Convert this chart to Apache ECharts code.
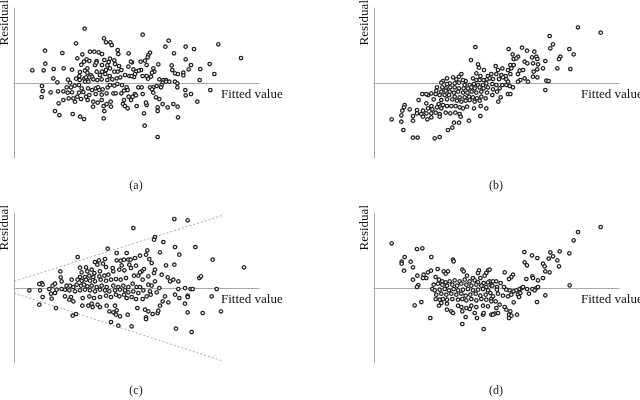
<!DOCTYPE html>
<html><head><meta charset="utf-8">
<script src="https://cdn.jsdelivr.net/npm/echarts@6/dist/echarts.min.js"></script>
<style>html,body{margin:0;padding:0;background:#fff}#c{width:640px;height:400px}</style>
</head><body><div id="c"></div>
<script>
// (a) homoscedastic residuals: [fitted value, residual]
const pointsA = [[212,163],[270,134],[276,122],[289,122],[293,114],[186,119],[93,97],[145,90],[228,94],[241,94],[254,92],[264,87],[205,86],[311,99],[313,87],[344,89],[190,74],[218,71],[210,64],[226,66],[248,66],[271,69],[288,73],[284,63],[301,68],[94,58],[55,38],[89,38],[119,42],[149,44],[174,40],[202,55],[220,44],[243,54],[247,61],[264,54],[280,53],[303,57],[315,51],[322,39],[311,34],[343,49],[198,33],[213,37],[220,31],[230,24],[234,19],[248,34],[264,34],[276,39],[288,44],[301,34],[274,27],[287,21],[196,21],[186,13],[211,13],[216,17],[226,17],[238,11],[250,9],[258,24],[118,14],[130,2],[162,10],[168,1],[197,9],[213,4],[223,4],[263,11],[280,9],[295,11],[308,14],[319,17],[333,24],[346,21],[84,-9],[86,-24],[83,-42],[110,-28],[132,-25],[148,-25],[161,-29],[174,-28],[158,-13],[171,-13],[182,-8],[195,-6],[203,-16],[195,-29],[208,-27],[222,-16],[234,-21],[245,-16],[252,-13],[256,-21],[266,-19],[281,-13],[288,-6],[301,-8],[310,-3],[324,-6],[338,-13],[341,-21],[330,-23],[322,-31],[298,-31],[305,-31],[278,-31],[263,-35],[245,-33],[226,-36],[216,-41],[190,-41],[178,-46],[164,-46],[148,-51],[134,-61],[183,-56],[201,-48],[221,-51],[238,-56],[237,-71],[251,-59],[263,-51],[269,-69],[278,-63],[290,-56],[291,-71],[330,-51],[327,-63],[333,-69],[341,-76],[123,-84],[136,-96],[176,-93],[198,-101],[210,-108],[271,-84],[269,-106],[344,-41],
[386,145],[464,127],[454,109],[515,109],[540,102],[613,116],[681,75],[408,91],[403,84],[401,77],[480,89],[515,71],[531,54],[587,57],[601,27],[559,42],[524,41],[473,53],[475,39],[483,29],[492,27],[508,31],[508,23],[433,56],[418,44],[421,34],[414,31],[411,19],[402,13],[398,21],[386,21],[380,64],[381,39],[374,37],[354,62],[351,64],[358,41],[366,34],[363,27],[360,18],[353,21],[393,67],[398,54],[436,11],[448,9],[456,9],[456,4],[466,4],[483,4],[490,-1],[557,9],[446,1],[443,-6],[441,-13],[428,-9],[418,-13],[408,-13],[414,-19],[383,-13],[373,-13],[386,-33],[363,-33],[356,-41],[351,-51],[368,-69],[366,-37],[418,-29],[426,-43],[436,-48],[446,-63],[461,-73],[431,-73],[431,-84],[398,-66],[396,-59],[478,-63],[491,-71],[490,-13],[514,-21],[515,-37],[531,-33],[550,-56],[589,-21],[390,-91],[392,-128],[431,-162],[492,-103]];

// (b) residuals trending upward with fitted value
const pointsB = [[304,108],[291,69],[312,56],[315,46],[330,39],[262,27],[255,19],[247,11],[237,17],[219,14],[207,6],[202,1],[307,29],[319,21],[342,21],[297,14],[307,9],[317,9],[329,9],[339,11],[275,6],[267,9],[255,1],[242,-1],[227,-1],[219,-3],[272,-6],[287,-6],[300,-3],[312,-6],[327,-6],[337,-1],[342,-13],[329,-16],[317,-13],[302,-16],[292,-13],[282,-16],[269,-16],[255,-16],[242,-13],[229,-13],[215,-16],[205,-13],[189,-13],[187,-23],[202,-26],[215,-23],[227,-26],[240,-29],[252,-26],[267,-29],[280,-29],[293,-26],[307,-29],[322,-26],[339,-29],[185,-33],[172,-31],[162,-36],[145,-33],[157,-33],[197,-36],[212,-36],[225,-36],[242,-41],[257,-43],[272,-43],[285,-41],[297,-43],[309,-46],[322,-41],[335,-46],[134,-51],[179,-49],[202,-51],[219,-49],[235,-49],[249,-53],[262,-56],[275,-53],[287,-51],[302,-56],[317,-53],[194,-63],[207,-66],[219,-69],[232,-69],[245,-69],[257,-73],[267,-76],[279,-71],[300,-76],[320,-69],[337,-76],[162,-76],[175,-79],[189,-73],[202,-76],[107,-79],[92,-66],[90,-73],[85,-83],[129,-81],[147,-83],[129,-91],[142,-93],[157,-91],[172,-91],[185,-89],[197,-93],[215,-89],[229,-91],[244,-89],[257,-93],[260,-101],[197,-101],[82,-97],[117,-99],[147,-101],[172,-103],[53,-109],[82,-116],[117,-113],[160,-109],[285,-113],[319,-99],[240,-119],[255,-119],[235,-134],[222,-141],[88,-141],[117,-164],[131,-164],[182,-166],[197,-162],[157,-61],[172,-69],
[612,167],[680,151],[527,141],[537,116],[529,104],[404,102],[444,106],[459,97],[481,94],[586,102],[599,86],[416,86],[432,79],[419,72],[427,74],[474,77],[487,79],[490,72],[559,79],[555,72],[514,66],[452,64],[460,59],[477,59],[492,56],[409,54],[419,54],[365,51],[372,39],[385,44],[402,39],[412,44],[437,37],[447,39],[479,34],[490,41],[507,44],[550,44],[589,42],[352,27],[367,27],[382,24],[395,21],[409,27],[432,27],[477,19],[490,17],[452,14],[439,9],[432,4],[462,4],[517,7],[524,6],[347,14],[357,12],[375,12],[387,17],[397,11],[402,4],[355,-3],[367,-6],[385,-6],[397,-6],[407,-9],[417,-13],[377,-16],[357,-19],[369,-26],[355,-36],[380,-43],[402,-33],[409,-33],[373,-56],[514,-21]];

// (c) funnel-shaped (heteroscedastic) residuals
const pointsC = [[281,118],[191,93],[139,50],[198,61],[243,78],[255,83],[267,73],[250,70],[273,87],[308,83],[320,82],[308,105],[338,105],[330,85],[323,68],[346,70],[343,85],[276,63],[233,55],[216,62],[220,50],[203,47],[241,45],[258,50],[296,60],[316,55],[331,53],[298,50],[283,40],[271,37],[256,35],[238,33],[226,37],[213,33],[198,33],[191,25],[203,22],[216,25],[228,22],[243,20],[260,25],[276,22],[291,25],[306,27],[320,25],[336,30],[140,32],[143,20],[173,25],[83,15],[86,10],[76,12],[116,7],[123,13],[158,7],[168,7],[178,3],[188,10],[201,7],[210,10],[220,5],[233,7],[248,3],[263,7],[278,3],[298,7],[313,3],[328,7],[343,3],[46,-7],[78,-7],[106,-3],[128,-5],[143,-3],[153,-5],[166,-7],[183,-10],[198,-7],[213,-5],[228,-7],[243,-10],[258,-5],[273,-7],[286,-10],[303,-7],[318,-5],[333,-7],[343,-13],[111,-17],[123,-15],[86,-27],[113,-32],[153,-25],[171,-27],[206,-30],[226,-25],[240,-30],[258,-27],[276,-23],[291,-27],[306,-20],[316,-25],[330,-20],[338,-30],[166,-35],[178,-40],[205,-53],[223,-53],[233,-47],[236,-57],[251,-50],[258,-57],[278,-53],[303,-53],[286,-70],[298,-73],[308,-67],[306,-80],[318,-85],[341,-80],[76,-50],[126,-60],[176,-83],[186,-78],[291,-102],[313,-113],
[481,207],[521,203],[358,180],[423,153],[420,145],[448,138],[483,123],[544,123],[438,107],[496,100],[596,85],[690,62],[400,113],[396,100],[378,97],[363,90],[350,85],[406,87],[413,75],[423,55],[420,45],[456,68],[481,70],[390,57],[383,50],[378,47],[366,67],[351,60],[360,37],[373,37],[386,25],[403,35],[443,40],[461,32],[478,25],[468,20],[493,20],[556,30],[561,35],[423,20],[356,13],[368,3],[378,3],[403,10],[413,7],[436,0],[493,-3],[513,0],[530,-3],[536,-3],[608,-3],[358,-10],[373,-15],[388,-7],[408,-10],[428,-13],[353,-27],[366,-33],[386,-33],[398,-25],[410,-20],[453,-25],[483,-20],[496,-30],[521,-23],[521,-27],[593,-25],[446,-40],[463,-43],[513,-47],[370,-60],[393,-65],[403,-70],[416,-78],[431,-75],[433,-68],[438,-53],[396,-88],[396,-93],[521,-73],[566,-75],[621,-70],[353,-115],[486,-122],[533,-132]];

// (c) funnel guide lines
const coneUpper = [[0,20],[623,217]];
const coneLower = [[0,-15],[623,-218]];

// (d) curved (U-shaped) residuals
const pointsD = [[53,134],[129,117],[145,119],[92,93],[83,79],[83,73],[110,79],[117,62],[90,52],[172,93],[237,85],[239,80],[171,52],[162,47],[191,57],[209,50],[222,50],[215,43],[265,55],[269,50],[315,53],[312,45],[342,53],[337,45],[279,37],[297,30],[319,30],[332,37],[347,20],[130,37],[149,40],[147,30],[157,30],[117,25],[133,9],[129,3],[185,33],[195,25],[205,20],[215,17],[227,20],[242,23],[257,20],[272,25],[287,20],[302,23],[312,17],[329,15],[342,17],[179,10],[192,13],[205,10],[219,7],[235,10],[249,7],[262,13],[277,10],[292,7],[307,10],[322,7],[337,3],[352,7],[175,-3],[182,-7],[197,-5],[212,-3],[225,-7],[239,-3],[252,-7],[267,-5],[282,-3],[297,-7],[312,-5],[327,-3],[342,-7],[187,-20],[202,-17],[217,-20],[232,-17],[247,-20],[262,-17],[275,-23],[289,-20],[305,-17],[319,-23],[335,-20],[349,-15],[185,-33],[197,-35],[207,-33],[219,-35],[235,-33],[252,-35],[265,-33],[277,-37],[292,-33],[307,-37],[322,-33],[337,-35],[352,-33],[219,-47],[202,-45],[195,-53],[252,-53],[262,-57],[277,-60],[292,-53],[307,-57],[327,-53],[342,-55],[219,-65],[232,-70],[237,-75],[265,-70],[275,-87],[302,-75],[309,-90],[327,-80],[329,-75],[352,-80],[362,-77],[122,-52],[142,-42],[169,-90],[265,-108],[329,-123],[287,-63],
[680,183],[612,168],[599,143],[451,108],[557,110],[529,107],[586,104],[474,98],[490,90],[537,95],[524,88],[550,83],[452,77],[459,68],[507,73],[512,65],[555,65],[514,50],[527,47],[507,30],[392,47],[417,40],[412,33],[405,27],[475,35],[457,27],[477,30],[492,23],[347,55],[357,20],[367,20],[380,15],[355,7],[369,3],[390,3],[397,-5],[407,-7],[419,-10],[427,-7],[437,-3],[444,0],[447,3],[459,-3],[475,-3],[487,0],[492,3],[482,-7],[587,8],[369,-5],[372,-17],[387,-23],[402,-25],[412,-20],[432,-20],[439,-15],[435,-27],[465,-17],[514,-22],[357,-25],[352,-40],[365,-40],[377,-50],[367,-60],[392,-57],[397,-65],[409,-70],[405,-80],[412,-83],[405,-90],[429,-80],[357,-80],[419,-43],[489,-42],[372,-75]];

const panelData = [pointsA, pointsB, pointsC, pointsD];
const captions = ['(a)', '(b)', '(c)', '(d)'];
const xLabel = 'Fitted value';
const yLabel = 'Residual';

const serif = "'Liberation Serif','DejaVu Serif',serif";
const gridPos = [
  {left: 14, top: 8}, {left: 374, top: 8},
  {left: 14, top: 213}, {left: 374, top: 213}
];
const axisColor = '#a8a8a8';

const grids = gridPos.map(p => ({left: p.left, top: p.top, width: 245, height: 150}));
const xAxes = gridPos.map((p, i) => ({
  type: 'value', gridIndex: i, min: 0, max: 735,
  axisLine: {show: true, onZero: true, lineStyle: {color: axisColor, width: 1}},
  axisTick: {show: false}, axisLabel: {show: false}, splitLine: {show: false}
}));
const yAxes = gridPos.map((p, i) => ({
  type: 'value', gridIndex: i, min: -225, max: 225,
  axisLine: {show: true, lineStyle: {color: axisColor, width: 1}},
  axisTick: {show: false}, axisLabel: {show: false}, splitLine: {show: false}
}));

const series = panelData.map((d, i) => ({
  type: 'scatter', xAxisIndex: i, yAxisIndex: i, data: d,
  symbol: 'circle', symbolSize: 3.4,
  itemStyle: {color: '#ffffff', borderColor: '#202020', borderWidth: 1.25, opacity: 1},
  silent: true, z: 3
}));
[coneUpper, coneLower].forEach(l => series.push({
  type: 'line', xAxisIndex: 2, yAxisIndex: 2, data: l, symbol: 'none', silent: true,
  lineStyle: {color: '#a8a8a8', width: 1, type: [2, 2]}, z: 2
}));

const graphic = [];
gridPos.forEach((p, i) => {
  graphic.push({type: 'text', x: p.left - 9, y: p.top - 8, rotation: Math.PI / 2,
    style: {text: yLabel, font: '13px ' + serif, fill: '#111', textAlign: 'right', textVerticalAlign: 'middle'}});
  graphic.push({type: 'text', x: p.left + 207, y: p.top + 87,
    style: {text: xLabel, font: '13px ' + serif, fill: '#111', textAlign: 'left', textVerticalAlign: 'middle'}});
  graphic.push({type: 'text', x: p.left + 122, y: p.top + 178,
    style: {text: captions[i], font: '12px ' + serif, fill: '#222', textAlign: 'center', textVerticalAlign: 'middle'}});
});

const chart = echarts.init(document.getElementById('c'), null, {renderer: 'canvas'});
chart.setOption({
  animation: false, backgroundColor: '#fff',
  grid: grids, xAxis: xAxes, yAxis: yAxes, series: series, graphic: graphic
});
</script></body></html>
